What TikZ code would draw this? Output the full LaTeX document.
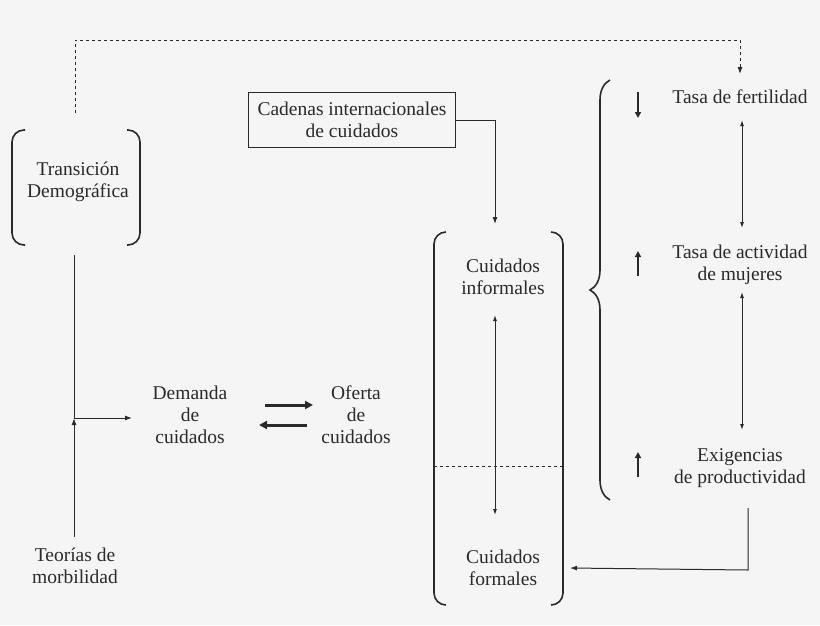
\documentclass[tikz,border=0pt]{standalone}
\usepackage{fontspec}
\setmainfont{Liberation Serif}
\usetikzlibrary{arrows.meta,decorations.pathreplacing}
\definecolor{bg}{HTML}{F5F5F5}
\definecolor{ink}{HTML}{2A2A2A}
\begin{document}
\begin{tikzpicture}[x=1pt,y=-1pt,
  every node/.style={font=\fontsize{19.5}{22}\selectfont,text=ink,align=center,inner sep=1pt},
  ln/.style={draw=ink,line width=1pt},
  ar/.style={ln,-{Latex[length=7pt,width=5pt]}},
  dar/.style={ln,{Latex[length=6pt,width=4pt]}-{Latex[length=6pt,width=4pt]}},
  thick arr/.style={draw=ink,line width=3pt,-{Triangle[length=8pt,width=8pt]}},
  small arr/.style={draw=ink,line width=2.2pt,-{Triangle[length=6pt,width=6pt]}},
  brk/.style={ln,line width=1.6pt,rounded corners=12pt}]
\fill[bg] (0,0) rectangle (820,625);
% Transicion
\node (td) at (78,182) {Transición\\Demográfica};
\draw[brk] (25,130) -- (12,130) -- (12,245) -- (25,245);
\draw[brk] (127,130) -- (140,130) -- (140,245) -- (127,245);
\coordinate (dt) at (75,113);
\coordinate (dtop) at (740,74);
\draw[ln,dashed,-{Latex[length=7pt,width=5pt]}] (dt) -- (75,40) -- (740,40) -- (dtop);
% morbilidad
\node (tm) at (75,566) {Teorías de\\morbilidad};
\coordinate (vtop) at (74,255);
\coordinate (j) at (74,418);
\draw[ln] (vtop) -- (j);
\draw[ar] (tm.north -| j) ++(0,-10) -- (j);
\draw[ar] (j) -- (132,418);
% Demanda/Oferta
\node (dem) at (190,415) {Demanda\\de\\cuidados};
\node (of) at (356,415) {Oferta\\de\\cuidados};
\draw[thick arr] (265,405) -- (313,405);
\draw[thick arr] (307,425) -- (259,425);
% Cadenas
\node[draw=ink,line width=1.6pt,minimum width=207pt,minimum height=55pt] (cad) at (352,120) {Cadenas internacionales\\de cuidados};
\draw[ar] (cad.east) -- (495,120) -- (495,224);
% tall brackets
\node (ci) at (503,277) {Cuidados\\informales};
\node (cf) at (503,568) {Cuidados\\formales};
\draw[brk] (446,232) -- (434,232) -- (434,605) -- (446,605);
\draw[brk] (551,232) -- (563,232) -- (563,605) -- (551,605);
\draw[ln,dashed,line width=0.7pt] (434,466) -- (563,466);
\draw[dar] (495,315) -- (495,515);
% brace
\draw[ln,line width=1.6pt,decorate,decoration={brace,amplitude=20pt}] (610,500) -- (610,80);
% right column
\node (tf) at (740,97) {Tasa de fertilidad};
\node (ta) at (740,265) {Tasa de actividad\\de mujeres};
\node (ex) at (740,468) {Exigencias\\de productividad};
\draw[small arr] (638,92) -- (638,118);
\draw[small arr] (638,276) -- (638,251);
\draw[small arr] (638,477) -- (638,452);
\draw[dar] (742,120) -- (742,228);
\draw[dar] (742,292) -- (742,430);
\draw[ar] (748,508) -- (748,570) -- (cf.east -| 570,0);
\end{tikzpicture}
\end{document}
